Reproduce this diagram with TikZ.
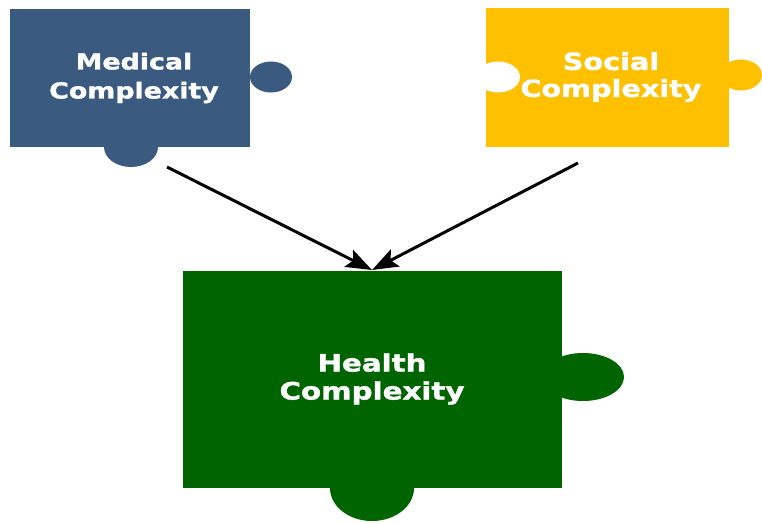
\documentclass[tikz,border=0pt]{standalone}
\usepackage{fontspec}
\newfontfamily\piecefont[FakeStretch=1.22,FakeBold=1.5]{DejaVu Sans Bold}
\usetikzlibrary{arrows.meta}
\definecolor{medblue}{RGB}{59,90,127}
\definecolor{socgold}{RGB}{255,192,0}
\definecolor{hgreen}{RGB}{0,100,0}
\begin{document}
\begin{tikzpicture}[x=1pt,y=-1pt,
  piece/.style={draw=none,inner sep=0pt,outer sep=0pt},
  piecetext/.style={text=white,align=center,font=\piecefont},
  link/.style={line width=3pt,-{Stealth[length=26pt,width=19pt,inset=5pt]}}]
\useasboundingbox (0,0) rectangle (762,522);
% Medical
\fill[medblue] (271,77) ellipse [x radius=21, y radius=15.5];
\fill[medblue] (131,147) ellipse [x radius=27, y radius=20];
\node[piece,fill=medblue,minimum width=240pt,minimum height=138pt,anchor=north west] (med) at (10,9) {};
\node[piecetext,font=\piecefont\fontsize{22}{29}\selectfont] (medt) at (134,78) {Medical\\Complexity};
% Social
\fill[socgold] (741,75) ellipse [x radius=21, y radius=15.5];
\node[piece,fill=socgold,minimum width=243pt,minimum height=139pt,anchor=north west] (soc) at (486,8) {};
\fill[white] (498,77) ellipse [x radius=22, y radius=15.5];
\node[piecetext,font=\piecefont\fontsize{23.5}{27}\selectfont] (soct) at (611,77) {Social\\Complexity};
% Health
\fill[hgreen] (583,377) ellipse [x radius=41, y radius=24];
\fill[hgreen] (372,488) ellipse [x radius=42, y radius=33];
\node[piece,fill=hgreen,minimum width=379pt,minimum height=217pt,anchor=north west] (hea) at (183,271) {};
\node[piecetext,font=\piecefont\fontsize{24}{28}\selectfont] (heat) at (372,379) {Health\\Complexity};
% connectors
\coordinate (ms) at (167,167);
\coordinate (ss) at (578,163);
\coordinate (tip) at (372,270);
\draw[link] (ms) -- (tip);
\draw[link] (ss) -- (tip);
\end{tikzpicture}
\end{document}
